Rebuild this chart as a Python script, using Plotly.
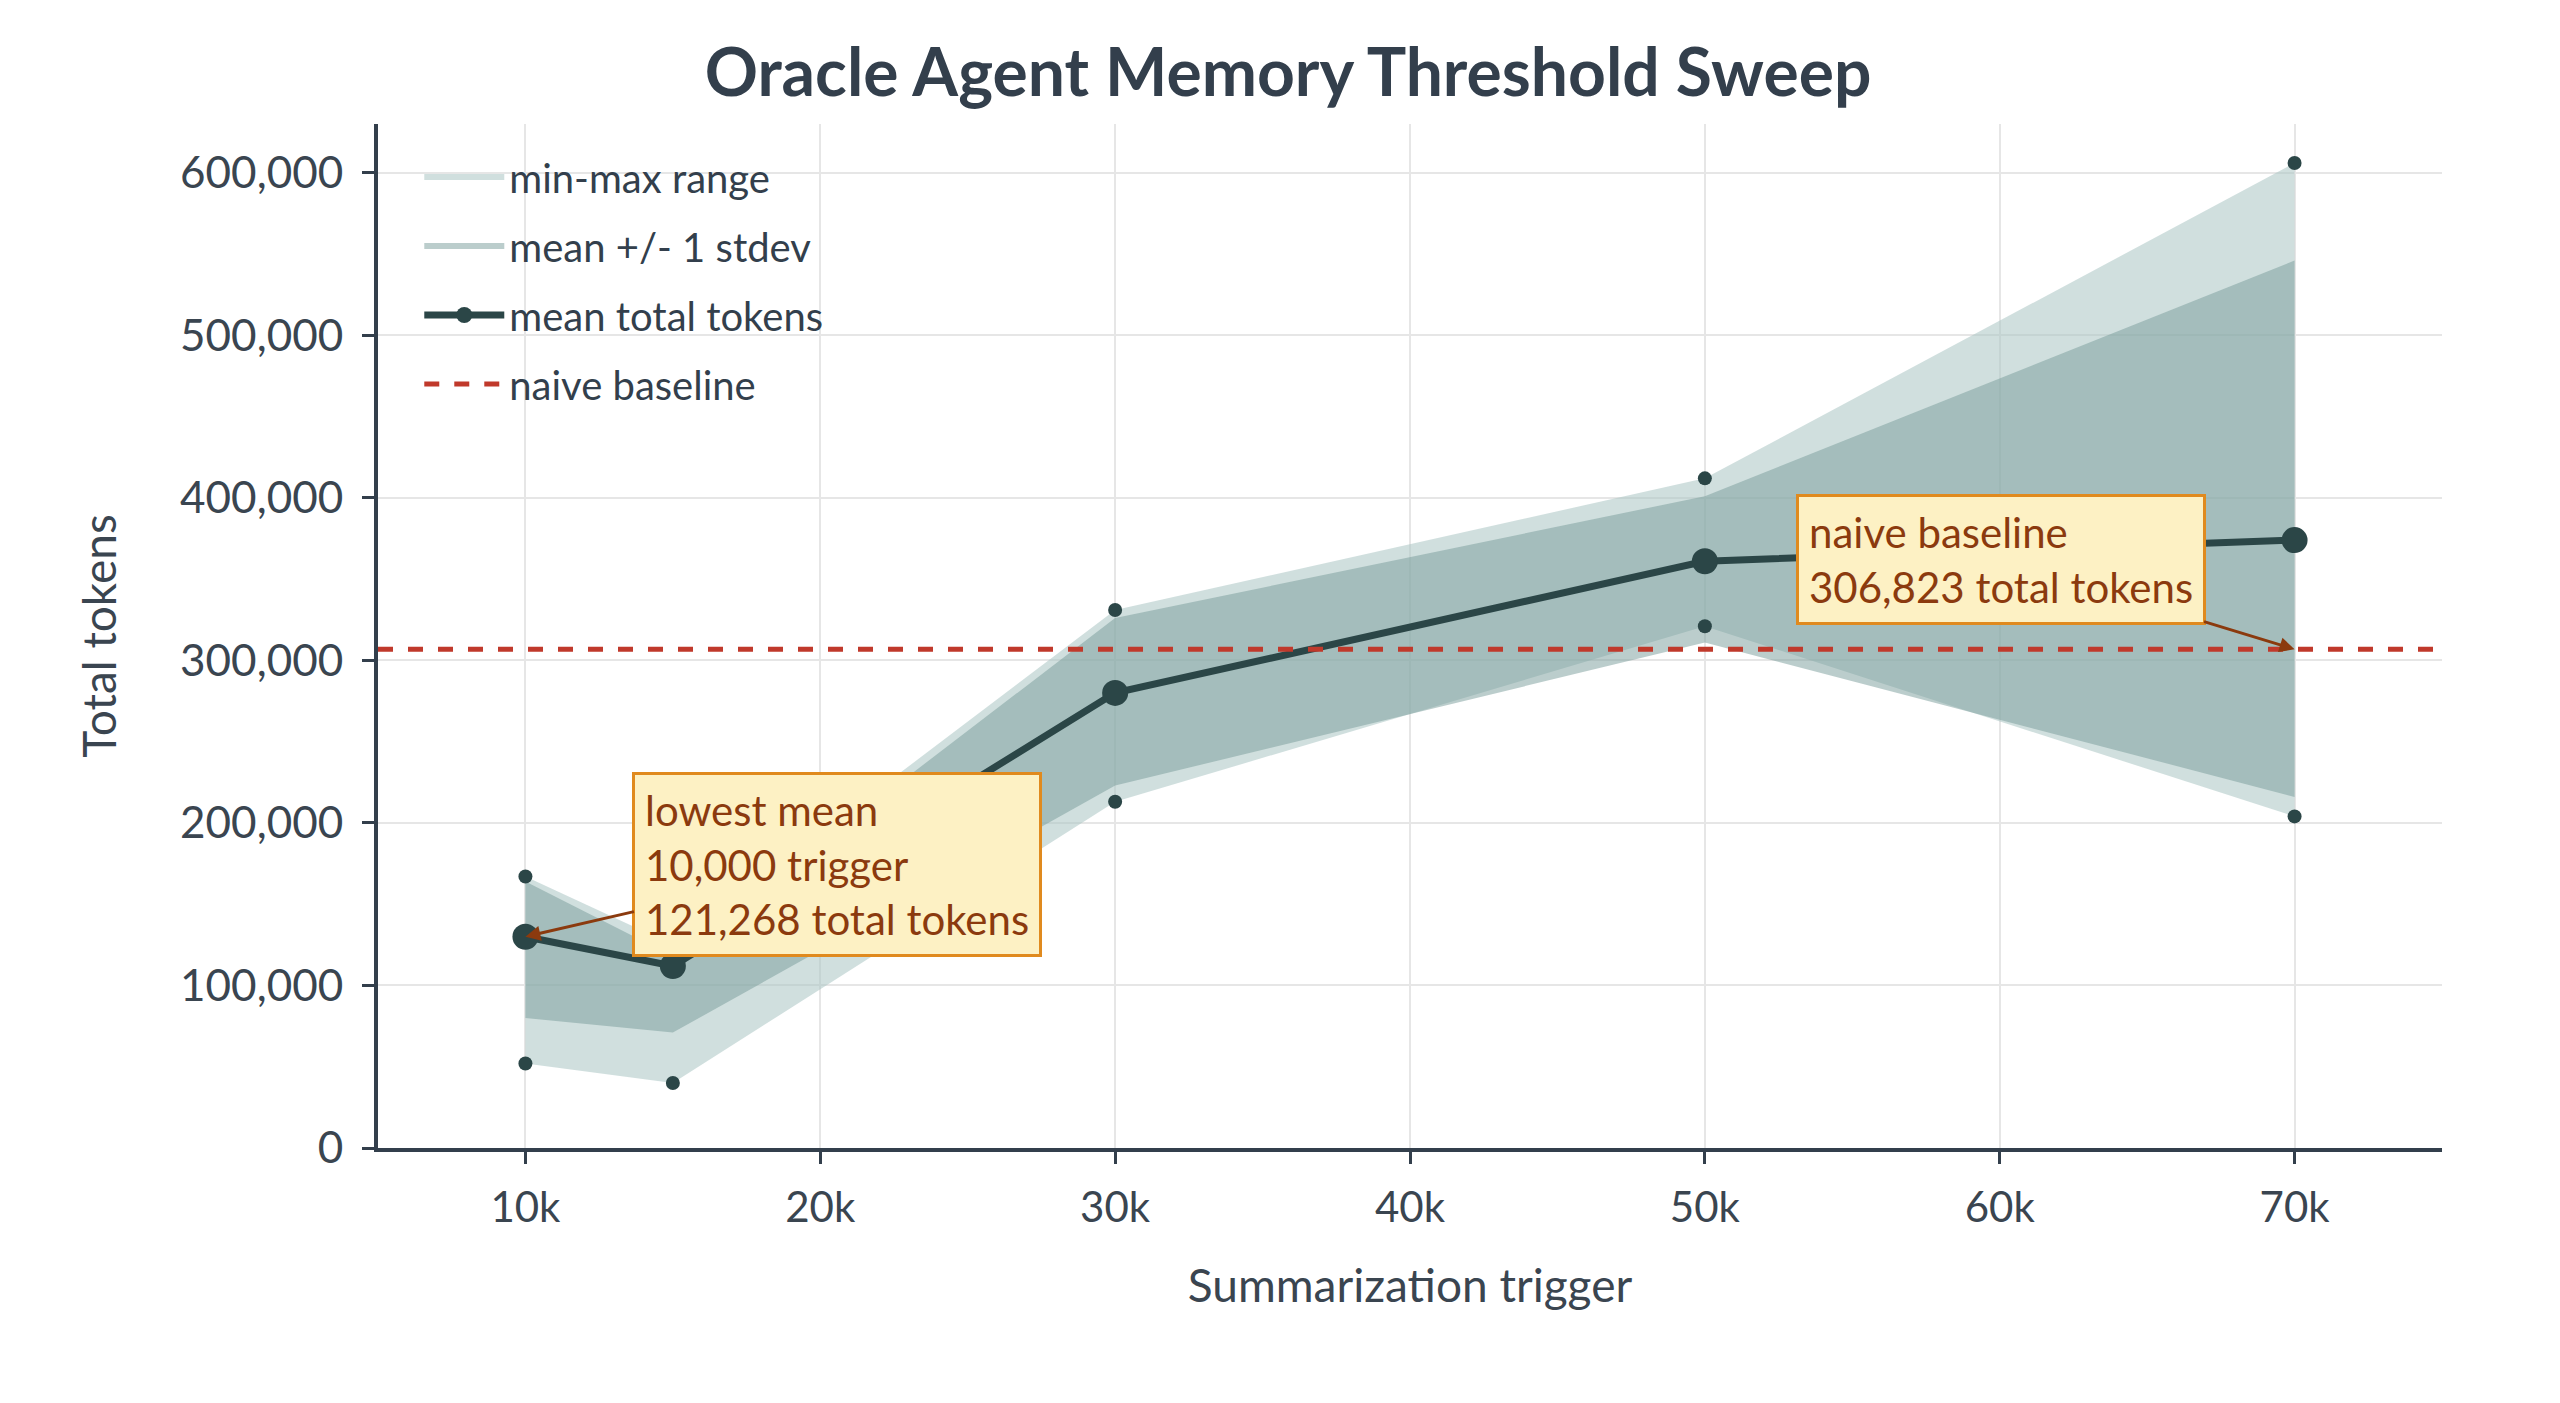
import plotly.graph_objects as go

triggers = [10000, 15000, 30000, 50000, 70000]
mean_tokens = [130000, 112000, 280000, 361000, 374000]
min_tokens = [52000, 40000, 213000, 321000, 204000]
max_tokens = [167000, 125000, 331000, 412000, 606000]
std_low = [80000, 71000, 223000, 311000, 216000]
std_high = [164000, 118000, 326000, 401000, 546000]
baseline = 306823
lowest_label = "lowest mean<br>10,000 trigger<br>121,268 total tokens"
baseline_label = "naive baseline<br>306,823 total tokens"

FONT = "Lato"
dark = "#2b4647"
fig = go.Figure()
fig.add_trace(go.Scatter(x=triggers + triggers[::-1], y=max_tokens + min_tokens[::-1],
                         fill="toself", fillcolor="rgba(170,196,194,0.55)", line=dict(width=0),
                         mode="none", name="min-max range", hoverinfo="skip", legendgroup="a"))
fig.add_trace(go.Scatter(x=triggers + triggers[::-1], y=std_high + std_low[::-1],
                         fill="toself", fillcolor="rgba(120,156,154,0.5)", line=dict(width=0),
                         mode="none", name="mean +/- 1 stdev", hoverinfo="skip", legendgroup="b"))
fig.add_trace(go.Scatter(x=triggers + triggers, y=min_tokens + max_tokens, mode="markers",
                         marker=dict(size=14, color=dark), showlegend=False))
fig.add_trace(go.Scatter(x=triggers, y=mean_tokens, mode="lines+markers", name="mean total tokens",
                         line=dict(color=dark, width=7), marker=dict(size=26, color=dark), legendgroup="c"))
fig.add_trace(go.Scatter(x=[5000, 75000], y=[baseline, baseline], mode="lines", name="naive baseline",
                         line=dict(color="#c0392b", width=5, dash="dash"), legendgroup="d"))

ann = dict(showarrow=True, arrowhead=2, arrowsize=1, arrowwidth=3, arrowcolor="#8b3a0e",
           bgcolor="#fdf1c4", bordercolor="#e08a1e", borderwidth=3, borderpad=10,
           font=dict(family=FONT, size=42, color="#8b3a0e"), align="left", xref="x", yref="y")
fig.add_annotation(x=triggers[0], y=mean_tokens[0], text=lowest_label, ax=312, ay=-72, **ann)
fig.add_annotation(x=70000, y=baseline, text=baseline_label, ax=-294, ay=-90, **ann)

fig.update_layout(
    width=2560, height=1403, plot_bgcolor="white", paper_bgcolor="white",
    margin=dict(l=370, r=126, t=116, b=263),
    font=dict(family=FONT, color="#3a4550"),
    title=dict(text="<b>Oracle Agent Memory Threshold Sweep</b>", x=0.5, xanchor="center", y=0.97,
               font=dict(size=66, color="#333f4c", family=FONT)),
    legend=dict(x=0.02, y=0.98, xanchor="left", yanchor="top", bgcolor="rgba(0,0,0,0)",
                font=dict(size=40, color="#333f4c"), itemwidth=80, tracegroupgap=14,
                traceorder="grouped"),
    showlegend=True,
)
fig.update_xaxes(range=[5000, 75000], tickvals=[10000, 20000, 30000, 40000, 50000, 60000, 70000],
                 ticktext=["10k", "20k", "30k", "40k", "50k", "60k", "70k"],
                 showgrid=True, gridcolor="#e6e6e6", gridwidth=2, showline=True, linecolor="#333f4c",
                 linewidth=4, ticks="outside", ticklen=12, tickcolor="#333f4c", tickwidth=3,
                 tickfont=dict(size=42), zeroline=False, ticklabelstandoff=8,
                 title=dict(text="Summarization trigger", font=dict(size=46), standoff=40))
fig.update_yaxes(range=[0, 630000], tickvals=[0, 100000, 200000, 300000, 400000, 500000, 600000],
                 tickformat=",", showgrid=True, gridcolor="#e6e6e6", gridwidth=2, showline=True,
                 linecolor="#333f4c", linewidth=4, ticks="outside", ticklen=12, tickcolor="#333f4c",
                 tickwidth=3, tickfont=dict(size=44), zeroline=False, ticklabelstandoff=10,
                 title=dict(text="Total tokens", font=dict(size=46), standoff=50))
fig.write_html("out.html")
